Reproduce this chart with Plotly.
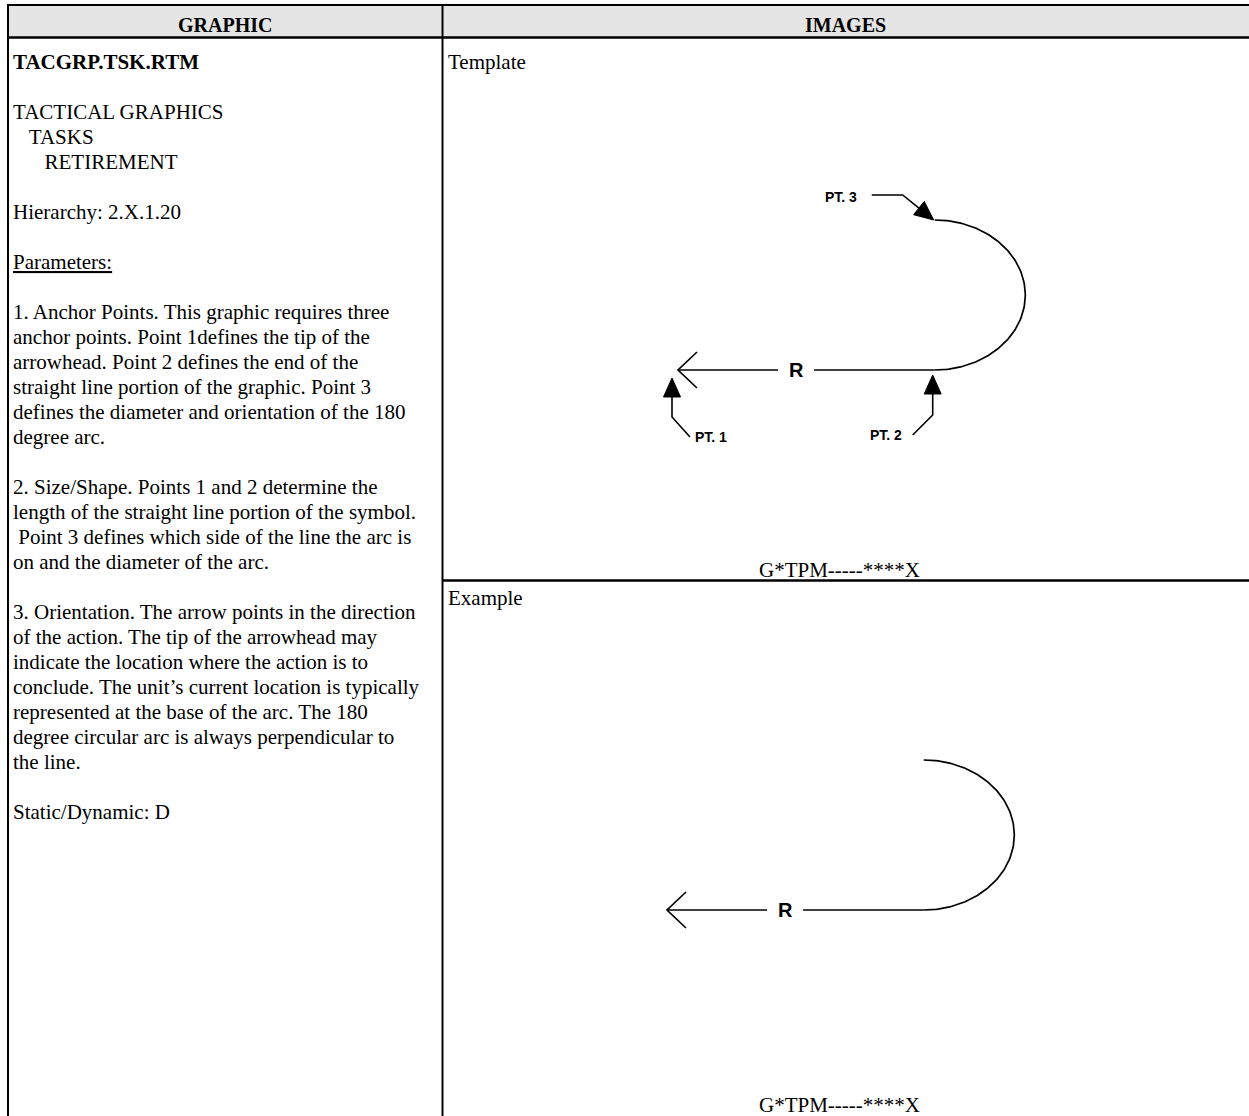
import numpy as np
import plotly.graph_objects as go

# ------------------------------------------------------------------ data
header_labels = ["GRAPHIC", "IMAGES"]

graphic_lines = [
    "<b>TACGRP.TSK.RTM</b>",
    "",
    "TACTICAL GRAPHICS",
    "\u00a0\u00a0\u00a0TASKS",
    "\u00a0\u00a0\u00a0\u00a0\u00a0\u00a0RETIREMENT",
    "",
    "Hierarchy: 2.X.1.20",
    "",
    "<u>Parameters:</u>",
    "",
    "1. Anchor Points. This graphic requires three",
    "anchor points. Point 1defines the tip of the",
    "arrowhead. Point 2 defines the end of the",
    "straight line portion of the graphic. Point 3",
    "defines the diameter and orientation of the 180",
    "degree arc.",
    "",
    "2. Size/Shape. Points 1 and 2 determine the",
    "length of the straight line portion of the symbol.",
    "\u00a0Point 3 defines which side of the line the arc is",
    "on and the diameter of the arc.",
    "",
    "3. Orientation. The arrow points in the direction",
    "of the action. The tip of the arrowhead may",
    "indicate the location where the action is to",
    "conclude. The unit\u2019s current location is typically",
    "represented at the base of the arc. The 180",
    "degree circular arc is always perpendicular to",
    "the line.",
    "",
    "Static/Dynamic: D",
]

panel_titles = ["Template", "Example"]
panel_codes = ["G*TPM-----****X", "G*TPM-----****X"]

line_label = "R"
anchor_names = ["PT. 1", "PT. 2", "PT. 3"]
anchor_x = [0.0, 17.0, 17.0]   # symbol units
anchor_y = [0.0, 0.0, 12.0]

# ------------------------------------------------------------------ layout constants
W, H = 1249, 1116
LEFT, MID, TOP, HEAD_B, SPLIT = 8, 442.5, 5, 37.5, 580.5
SX, SY = 15.1, 12.5          # px per symbol unit (the drawing is stretched horizontally)
SERIF = "Liberation Serif, Times New Roman, serif"
SANS = "Liberation Sans, Arial, sans-serif"
LINE_H = 25
FIRST_Y = 61.5

fig = go.Figure()
shapes = []
annotations = []


def hline(y, x0, x1, w):
    shapes.append(dict(type="line", xref="x", yref="y", x0=x0, x1=x1, y0=y, y1=y,
                       line=dict(color="black", width=w)))


def vline(x, y0, y1, w):
    shapes.append(dict(type="line", xref="x", yref="y", x0=x, x1=x, y0=y0, y1=y1,
                       line=dict(color="black", width=w)))


# header band and table rules
shapes.append(dict(type="rect", xref="x", yref="y", x0=LEFT, x1=W, y0=TOP, y1=HEAD_B,
                   fillcolor="#e5e5e5", line_width=0, layer="below"))
hline(TOP, LEFT - 1, W, 2)
hline(HEAD_B, LEFT - 1, W, 2.5)
vline(LEFT, TOP, H, 2)
vline(MID, TOP, H, 2)
hline(SPLIT, MID, W, 2.5)

# header text
for lbl, cx in zip(header_labels, [(LEFT + MID) / 2, (MID + W) / 2]):
    annotations.append(dict(x=cx, y=25, xref="x", yref="y", text=f"<b>{lbl}</b>",
                            showarrow=False, xanchor="center", yanchor="middle",
                            font=dict(family=SERIF, size=20, color="black")))

# left column text
for i, t in enumerate(graphic_lines):
    if not t:
        continue
    annotations.append(dict(x=LEFT + 3, y=FIRST_Y + i * LINE_H, xref="x", yref="y", text=t,
                            showarrow=False, xanchor="left", yanchor="middle",
                            font=dict(family=SERIF, size=21, color="black")))

# right column titles and codes
panel_tops = [HEAD_B, SPLIT]
panel_bottoms = [SPLIT, H]
for title, code, ptop, pbot in zip(panel_titles, panel_codes, panel_tops, panel_bottoms):
    annotations.append(dict(x=MID + 3, y=ptop + 17 + (7 if ptop == HEAD_B else 0), xref="x",
                            yref="y", text=title,
                            showarrow=False, xanchor="left", yanchor="middle",
                            font=dict(family=SERIF, size=21, color="black")))
    annotations.append(dict(x=(MID + W) / 2 - 6, y=pbot - 11, xref="x", yref="y", text=code,
                            showarrow=False, xanchor="center", yanchor="middle",
                            font=dict(family=SERIF, size=21, color="black")))

# page axis (pixel coordinates)
layout_axes = dict(
    xaxis=dict(domain=[0, 1], range=[0, W], visible=False, fixedrange=True),
    yaxis=dict(domain=[0, 1], range=[H, 0], visible=False, fixedrange=True),
)
fig.add_trace(go.Scatter(x=[0], y=[0], mode="markers", marker=dict(opacity=0),
                         xaxis="x", yaxis="y", hoverinfo="skip", showlegend=False))

# drawing panels
panels = [
    dict(n="2", left=MID + 1, right=W, top=HEAD_B + 1, bottom=SPLIT, ox=678, oy=370, callouts=True),
    dict(n="3", left=MID + 1, right=W, top=SPLIT + 1, bottom=H, ox=667, oy=910, callouts=False),
]


def px(dx, dy):
    """pixel offset (y down) -> symbol units"""
    return np.array([dx / SX, -dy / SY])


LW = 1.7
for pnl in panels:
    n = pnl["n"]
    xa, ya = "x" + n, "y" + n
    layout_axes["xaxis" + n] = dict(
        domain=[pnl["left"] / W, pnl["right"] / W],
        range=[-(pnl["ox"] - pnl["left"]) / SX, (pnl["right"] - pnl["ox"]) / SX],
        visible=False, fixedrange=True, anchor=ya)
    layout_axes["yaxis" + n] = dict(
        domain=[1 - pnl["bottom"] / H, 1 - pnl["top"] / H],
        range=[-(pnl["bottom"] - pnl["oy"]) / SY, (pnl["oy"] - pnl["top"]) / SY],
        visible=False, fixedrange=True, anchor=xa)

    p1 = np.array([anchor_x[0], anchor_y[0]])
    p2 = np.array([anchor_x[1], anchor_y[1]])
    p3 = np.array([anchor_x[2], anchor_y[2]])

    # shaft with gap for the label
    u = (p2 - p1) / np.linalg.norm(p2 - p1)
    g = p1 + 0.46 * (p2 - p1)
    hw = 18 / SX
    a = g - hw * u
    b = g + hw * u
    # chevron arrowhead at p1
    arm1 = p1 + px(19, -18)
    arm2 = p1 + px(19, 18)
    xs = [arm1[0], p1[0], arm2[0], None, p1[0], a[0], None, b[0], p2[0]]
    ys = [arm1[1], p1[1], arm2[1], None, p1[1], a[1], None, b[1], p2[1]]
    fig.add_trace(go.Scatter(x=xs, y=ys, mode="lines", xaxis=xa, yaxis=ya,
                             line=dict(color="black", width=LW), hoverinfo="skip",
                             showlegend=False))
    annotations.append(dict(x=g[0], y=g[1], xref=xa, yref=ya, text=f"<b>{line_label}</b>",
                            showarrow=False, xanchor="center", yanchor="middle",
                            font=dict(family=SANS, size=20, color="black")))

    # 180 degree arc from p2 to p3 on the side away from p1
    c = (p2 + p3) / 2
    r = np.linalg.norm(p3 - p2) / 2
    a0 = np.arctan2(p2[1] - c[1], p2[0] - c[0])
    best = None
    for s in (1, -1):
        mid = c + r * np.array([np.cos(a0 + s * np.pi / 2), np.sin(a0 + s * np.pi / 2)])
        d = np.linalg.norm(mid - p1)
        if best is None or d > best[0]:
            best = (d, s)
    t = np.linspace(0, np.pi, 120)
    ang = a0 + best[1] * t
    fig.add_trace(go.Scatter(x=c[0] + r * np.cos(ang), y=c[1] + r * np.sin(ang), mode="lines",
                             xaxis=xa, yaxis=ya, line=dict(color="black", width=LW),
                             hoverinfo="skip", showlegend=False))

    if pnl["callouts"]:
        specs = [
            dict(anchor=p1, tip=(-6, 8), d=(0, -1), leader=[(0, 39), (18, 59)],
                 lbl=(21, 59), xanchor="left"),
            dict(anchor=p2, tip=(-2, 5), d=(0, -1), leader=[(0, 40), (-20, 60)],
                 lbl=(-29, 60), xanchor="right"),
            dict(anchor=p3, tip=(-1, 0), d=(31, 25), leader=[(-31, -25), (-62, -25)],
                 lbl=(-75, -23), xanchor="right"),
        ]
        for name, sp in zip(anchor_names, specs):
            tip = np.array(sp["tip"], dtype=float)          # px offsets from anchor
            d = np.array(sp["d"], dtype=float)
            d /= np.linalg.norm(d)
            nrm = np.array([-d[1], d[0]])
            L, Wd = 19, 17
            base = tip - d * L
            c1 = base + nrm * Wd / 2
            c2 = base - nrm * Wd / 2
            tri = [tip, c1, c2, tip]
            tx = [sp["anchor"][0] + px(*q)[0] for q in tri]
            ty = [sp["anchor"][1] + px(*q)[1] for q in tri]
            fig.add_trace(go.Scatter(x=tx, y=ty, mode="lines", fill="toself",
                                     fillcolor="black", xaxis=xa, yaxis=ya,
                                     line=dict(color="black", width=1), hoverinfo="skip",
                                     showlegend=False))
            pts = [base] + [tip + np.array(q, dtype=float) for q in sp["leader"]]
            lx = [sp["anchor"][0] + px(*q)[0] for q in pts]
            ly = [sp["anchor"][1] + px(*q)[1] for q in pts]
            fig.add_trace(go.Scatter(x=lx, y=ly, mode="lines", xaxis=xa, yaxis=ya,
                                     line=dict(color="black", width=1.6), hoverinfo="skip",
                                     showlegend=False))
            lp = sp["anchor"] + px(*(tip + np.array(sp["lbl"], dtype=float)))
            annotations.append(dict(x=lp[0], y=lp[1], xref=xa, yref=ya, text=f"<b>{name}</b>",
                                    showarrow=False, xanchor=sp["xanchor"], yanchor="middle",
                                    font=dict(family=SANS, size=14, color="black")))

fig.update_layout(
    width=W, height=H, margin=dict(l=0, r=0, t=0, b=0, pad=0),
    paper_bgcolor="white", plot_bgcolor="white",
    showlegend=False, shapes=shapes, annotations=annotations,
    **layout_axes,
)

fig.write_html("out.html", config={"displayModeBar": False},
               post_script="document.body.style.margin='0';document.body.style.overflow='hidden';")
